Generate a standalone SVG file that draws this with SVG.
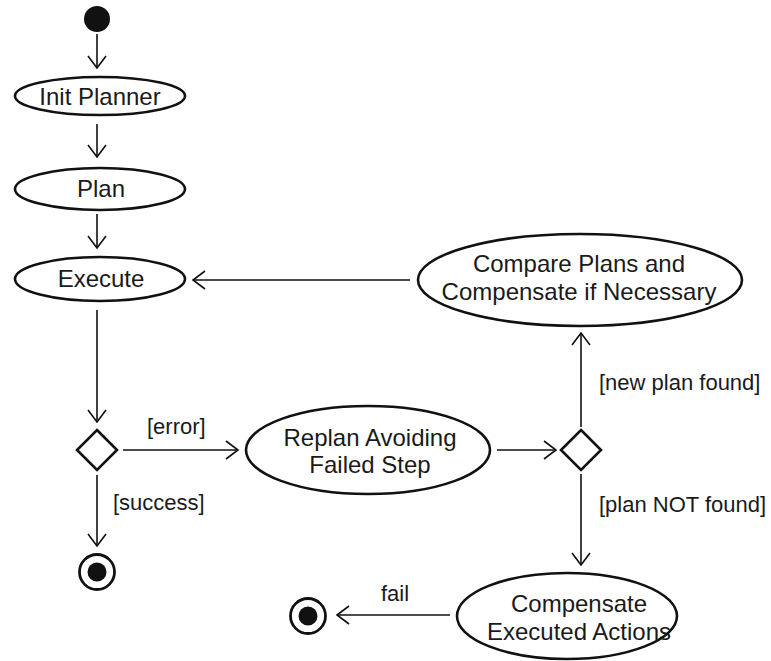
<svg xmlns="http://www.w3.org/2000/svg" width="771" height="661" viewBox="0 0 771 661">
  <style>
    .node { fill: #ffffff; stroke: #111111; stroke-width: 2.6; }
    .txt { font-family: "Liberation Sans", Arial, sans-serif; font-size: 24px; fill: #1a1a1a; text-anchor: middle; }
    .lbl { font-family: "Liberation Sans", Arial, sans-serif; font-size: 22px; fill: #1a1a1a; }
    .edge { fill: none; stroke: #111111; stroke-width: 1.6; marker-end: url(#open); }
    .dot { fill: #111111; }
  </style>
  <defs>
    <marker id="open" viewBox="0 0 14 20" refX="13" refY="10" markerWidth="14" markerHeight="20" markerUnits="userSpaceOnUse" orient="auto">
      <path d="M1,1 L13,10 L1,19" fill="none" stroke="#111111" stroke-width="1.6"/>
    </marker>
  </defs>
  <rect width="771" height="661" fill="#ffffff"/>

  <!-- connectors -->
  <g id="connectors">
    <line class="edge" x1="97" y1="34" x2="97" y2="68"/>
    <line class="edge" x1="97" y1="124" x2="97" y2="157"/>
    <line class="edge" x1="97" y1="214" x2="97" y2="248"/>
    <line class="edge" x1="97" y1="310" x2="97" y2="422"/>
    <line class="edge" x1="123" y1="450" x2="238" y2="450"/>
    <line class="edge" x1="97" y1="475" x2="97" y2="546"/>
    <line class="edge" x1="497" y1="450" x2="556" y2="450"/>
    <line class="edge" x1="581" y1="427" x2="581" y2="333"/>
    <line class="edge" x1="581" y1="474" x2="581" y2="565"/>
    <line class="edge" x1="410" y1="280" x2="193" y2="280"/>
    <line class="edge" x1="450" y1="615" x2="337" y2="615"/>
    <text class="lbl" x="147" y="434">[error]</text>
    <text class="lbl" x="113" y="510">[success]</text>
    <text class="lbl" x="599" y="390">[new plan found]</text>
    <text class="lbl" x="599" y="512">[plan NOT found]</text>
    <text class="lbl" x="381" y="601">fail</text>
  </g>

  <!-- start -->
  <g id="start">
    <circle class="dot" cx="97" cy="19" r="13"/>
  </g>

  <g id="init-planner">
    <ellipse class="node" cx="100" cy="96" rx="85" ry="19"/>
    <text class="txt" x="100" y="105">Init Planner</text>
  </g>

  <g id="plan">
    <ellipse class="node" cx="100" cy="189" rx="85" ry="21"/>
    <text class="txt" x="101" y="197">Plan</text>
  </g>

  <g id="execute">
    <ellipse class="node" cx="100" cy="279" rx="85" ry="22"/>
    <text class="txt" x="101" y="287">Execute</text>
  </g>

  <g id="decision-result">
    <polygon class="node" points="97,430 117,450 97,470 77,450"/>
  </g>

  <g id="end-success">
    <circle cx="97" cy="572" r="17.5" fill="#ffffff" stroke="#111111" stroke-width="2.8"/>
    <circle class="dot" cx="97" cy="572" r="9.5"/>
  </g>

  <g id="replan">
    <ellipse class="node" cx="368" cy="450" rx="122" ry="44"/>
    <text class="txt" x="370" y="446">Replan Avoiding</text>
    <text class="txt" x="370" y="473">Failed Step</text>
  </g>

  <g id="decision-replan">
    <polygon class="node" points="581,430 601,450 581,470 561,450"/>
  </g>

  <g id="compare">
    <ellipse class="node" cx="580" cy="280" rx="162" ry="46"/>
    <text class="txt" x="579" y="272">Compare Plans and</text>
    <text class="txt" x="579" y="300">Compensate if Necessary</text>
  </g>

  <g id="compensate">
    <ellipse class="node" cx="567" cy="616" rx="110" ry="43"/>
    <text class="txt" x="579" y="612">Compensate</text>
    <text class="txt" x="579" y="640">Executed Actions</text>
  </g>

  <g id="end-fail">
    <circle cx="308" cy="616" r="17.5" fill="#ffffff" stroke="#111111" stroke-width="2.8"/>
    <circle class="dot" cx="308" cy="616" r="9.5"/>
  </g>
</svg>
